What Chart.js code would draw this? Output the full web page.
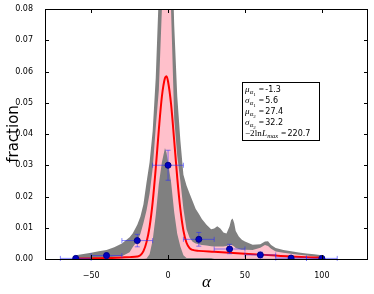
<!DOCTYPE html>
<html>
<head>
<meta charset="utf-8">
<script src="https://cdn.jsdelivr.net/npm/chart.js@4/dist/chart.umd.min.js"></script>
<style>
  html, body { margin: 0; padding: 0; background: #fff; }
  #wrap { width: 374px; height: 294px; }
</style>
</head>
<body>
<div id="wrap"><canvas id="fitChart" width="374" height="294"></canvas></div>
<script>
// x grid shared by the two bands
const bandX = [-62, -60, -55, -50, -45, -40, -35, -30, -25, -23, -20, -18, -16, -14, -12, -10, -8, -6, -4, -2, -1, 0,
  2, 4, 6, 8, 10, 12, 14, 16, 18, 20, 22, 25, 28, 30, 32, 34, 36, 38, 40, 41, 42, 43, 44, 46, 48, 50,
  55, 60, 63, 65, 67, 70, 75, 80, 85, 90, 95, 100];

// outer (gray) band, upper edge; lower edge sits on zero
const grayHi = [0.0008, 0.0012, 0.0016, 0.002, 0.0025, 0.0029, 0.0038, 0.005, 0.007, 0.0082, 0.011, 0.0135, 0.0175, 0.0245, 0.031, 0.041, 0.058, 0.085, 0.12, 0.15, 0.15, 0.15,
  0.11, 0.075, 0.052, 0.038, 0.027, 0.0235, 0.021, 0.0185, 0.016, 0.0145, 0.0128, 0.011, 0.0095, 0.0098, 0.0105, 0.0098, 0.0085, 0.0082, 0.0105, 0.0125, 0.013, 0.0115, 0.009, 0.0072, 0.0062, 0.0056,
  0.0046, 0.0047, 0.0056, 0.0057, 0.0045, 0.0035, 0.0029, 0.0025, 0.0021, 0.0018, 0.0015, 0.0012];

// inner (pink) band
const pinkHi = [0.0002, 0.0002, 0.0003, 0.0003, 0.0004, 0.0005, 0.0007, 0.0009, 0.0022, 0.0038, 0.0058, 0.008, 0.0115, 0.0155, 0.021, 0.029, 0.042, 0.054, 0.08, 0.11, 0.12, 0.11,
  0.079, 0.045, 0.033, 0.025, 0.016, 0.0095, 0.0068, 0.0055, 0.005, 0.0047, 0.0045, 0.0043, 0.0041, 0.004, 0.004, 0.004, 0.004, 0.0042, 0.0045, 0.0045, 0.0043, 0.004, 0.0035, 0.0032, 0.003, 0.003,
  0.0029, 0.0036, 0.0045, 0.0042, 0.0033, 0.0024, 0.002, 0.0017, 0.0014, 0.0011, 0.0008, 0.0005];
const pinkLo = [0.0001, 0.0001, 0.0001, 0.0001, 0.0001, 0.0001, 0.0001, 0.0001, 0.0001, 0.0001, 0.0001, 0.0001, 0.0001, 0.0002, 0.0015, 0.006, 0.014, 0.024, 0.031, 0.0355, 0.034, 0.031,
  0.0245, 0.015, 0.008, 0.004, 0.0012, 0.0003, 0.0003, 0.0003, 0.0003, 0.0003, 0.0003, 0.0003, 0.0003, 0.0001, 0.0001, 0.0001, 0.0001, 0.0001, 0.0001, 0.0001, 0.0001, 0.0001, 0.0001, 0.0001, 0.0001, 0.0001,
  0.0001, 0.0001, 0.0001, 0.0001, 0.0001, 0.0001, 0.0001, 0.0001, 0.0001, 0.0001, 0.0001, 0.0001];

// best fit curve (red)
const fitX = [-62, -50, -40, -30, -25, -20, -18, -16, -14, -12, -10, -8, -6, -4, -2, -1, 0, 2, 4, 6, 8, 10, 12, 14, 16, 20, 30, 40, 50, 60, 70, 80, 90, 100];
const fitY = [0.0001, 0.0002, 0.0003, 0.0005, 0.0006, 0.0008, 0.0012, 0.0025, 0.0054, 0.0103, 0.0182, 0.029, 0.0413, 0.052, 0.0579, 0.0585, 0.0568, 0.0494, 0.0379, 0.0259, 0.016, 0.0091, 0.0052, 0.0035, 0.0029,
  0.0026, 0.0023, 0.002, 0.0017, 0.0014, 0.0011, 0.0008, 0.0006, 0.0004];

// binned data with errors
const binX = [-60, -40, -20, 0, 20, 40, 60, 80, 100];
const binY = [0.0002, 0.0011, 0.0059, 0.030, 0.0063, 0.0032, 0.0013, 0.0003, 0.0002];
const binYErr = [0.0002, 0.0008, 0.002, 0.0048, 0.0022, 0.0015, 0.0009, 0.0003, 0.0002];
const binXErr = [10, 10, 10, 10, 10, 10, 10, 10, 10];

const xTicks = [-50, 0, 50, 100];

const fitLines = [
  [['μ', 'm'], ['α', 's'], ['1', 'ss'], [' =', 'm'], ['-1.3', 'n']],
  [['σ', 'm'], ['α', 's'], ['1', 'ss'], [' =', 'm'], ['5.6', 'n']],
  [['μ', 'm'], ['α', 's'], ['2', 'ss'], [' =', 'm'], ['27.4', 'n']],
  [['σ', 'm'], ['α', 's'], ['2', 'ss'], [' =', 'm'], ['32.2', 'n']],
  [['−2', 'r'], ['ln', 'r'], ['L', 'm'], ['max', 's'], [' =', 'm'], ['220.7', 'n']]
];

const pts = (xs, ys) => xs.map((x, i) => ({ x: x, y: ys[i] }));

const errorBars = {
  id: 'errorBars',
  beforeDatasetDraw(chart, args) {
    if (args.index !== 4) return;
    const ctx = chart.ctx;
    const xs = chart.scales.x, ys = chart.scales.y;
    ctx.save();
    ctx.strokeStyle = 'rgba(40,40,255,0.55)';
    ctx.lineWidth = 1;
    const cap = 2.5;
    binX.forEach((x, i) => {
      const px = xs.getPixelForValue(x), py = ys.getPixelForValue(binY[i]);
      const x0 = xs.getPixelForValue(x - binXErr[i]), x1 = xs.getPixelForValue(x + binXErr[i]);
      const y0 = ys.getPixelForValue(binY[i] - binYErr[i]), y1 = ys.getPixelForValue(binY[i] + binYErr[i]);
      ctx.beginPath();
      ctx.moveTo(x0, py); ctx.lineTo(x1, py);
      ctx.moveTo(x0, py - cap); ctx.lineTo(x0, py + cap);
      ctx.moveTo(x1, py - cap); ctx.lineTo(x1, py + cap);
      ctx.moveTo(px, y0); ctx.lineTo(px, y1);
      ctx.moveTo(px - cap, y0); ctx.lineTo(px + cap, y0);
      ctx.moveTo(px - cap, y1); ctx.lineTo(px + cap, y1);
      ctx.stroke();
    });
    ctx.restore();
  }
};

const frameAndText = {
  id: 'frameAndText',
  afterDatasetsDraw(chart) {
    const ctx = chart.ctx;
    const a = chart.chartArea;
    const xs = chart.scales.x, ys = chart.scales.y;
    ctx.save();
    // frame
    ctx.strokeStyle = '#000';
    ctx.lineWidth = 1;
    ctx.strokeRect(Math.round(a.left) + 0.5, Math.round(a.top) + 0.5, Math.round(a.right - a.left) - 1, Math.round(a.bottom - a.top));
    // inward ticks on all sides
    ctx.beginPath();
    xTicks.forEach(v => {
      const px = Math.round(xs.getPixelForValue(v)) + 0.5;
      ctx.moveTo(px, a.bottom); ctx.lineTo(px, a.bottom - 4);
      ctx.moveTo(px, a.top); ctx.lineTo(px, a.top + 4);
    });
    ys.ticks.forEach(t => {
      const py = Math.round(ys.getPixelForValue(t.value)) + 0.5;
      ctx.moveTo(a.left, py); ctx.lineTo(a.left + 4, py);
      ctx.moveTo(a.right, py); ctx.lineTo(a.right - 4, py);
    });
    ctx.stroke();

    // axis titles
    ctx.fillStyle = '#000';
    ctx.font = '15px "DejaVu Sans"';
    ctx.textAlign = 'center';
    ctx.textBaseline = 'alphabetic';
    ctx.save();
    ctx.translate(18, (a.top + a.bottom) / 2);
    ctx.rotate(-Math.PI / 2);
    ctx.fillText('fraction', 0, 0);
    ctx.restore();
    ctx.font = 'italic 17px "Liberation Serif"';
    ctx.fillText('α', (a.left + a.right) / 2, 287);

    // fit summary box
    const bx = a.left + 197, by = a.top + 73, bw = 77, bh = 58;
    ctx.fillStyle = '#fff';
    ctx.fillRect(bx, by, bw, bh);
    ctx.strokeStyle = '#000';
    ctx.strokeRect(bx + 0.5, by + 0.5, bw, bh);
    ctx.fillStyle = '#000';
    ctx.textAlign = 'left';
    const fonts = {
      m: ['italic 9px "Liberation Serif"', 0],
      r: ['9px "Liberation Serif"', 0],
      s: ['italic 6.5px "Liberation Serif"', 2],
      ss: ['5px "Liberation Serif"', 3.5],
      n: ['8px "DejaVu Sans"', 0]
    };
    fitLines.forEach((line, li) => {
      let cx = bx + 3;
      const base = by + 10 + li * 11;
      line.forEach(([txt, kind]) => {
        const f = fonts[kind];
        ctx.font = f[0];
        ctx.fillText(txt, cx, base + f[1]);
        cx += ctx.measureText(txt).width + 0.2;
        if (txt === ' =') cx += 0.8;
      });
    });
    ctx.restore();
  }
};

new Chart(document.getElementById('fitChart'), {
  type: 'line',
  data: {
    datasets: [
      {
        label: 'outer',
        data: pts(bandX, grayHi),
        borderWidth: 0,
        borderColor: 'rgba(0,0,0,0)',
        backgroundColor: '#808080',
        fill: 'origin',
        pointRadius: 0,
        tension: 0,
        order: 5
      },
      {
        label: 'inner lo',
        data: pts(bandX, pinkLo),
        borderWidth: 0,
        borderColor: 'rgba(0,0,0,0)',
        pointRadius: 0,
        fill: false,
        tension: 0,
        order: 4
      },
      {
        label: 'inner hi',
        data: pts(bandX, pinkHi),
        borderWidth: 0,
        borderColor: 'rgba(0,0,0,0)',
        backgroundColor: '#ffc0cb',
        fill: '-1',
        pointRadius: 0,
        tension: 0,
        order: 3
      },
      {
        label: 'fit',
        data: pts(fitX, fitY),
        borderColor: '#ff0000',
        borderWidth: 2,
        pointRadius: 0,
        fill: false,
        cubicInterpolationMode: 'monotone',
        order: 2
      },
      {
        label: 'bins',
        data: pts(binX, binY),
        showLine: false,
        pointRadius: 3,
        pointBackgroundColor: '#0000c0',
        pointBorderColor: '#00008a',
        pointBorderWidth: 1,
        order: 1
      }
    ]
  },
  options: {
    responsive: false,
    animation: false,
    layout: { padding: { top: 9, right: 6, left: 0, bottom: 0 } },
    plugins: { legend: { display: false }, tooltip: { enabled: false } },
    scales: {
      x: {
        type: 'linear',
        min: -80,
        max: 130,
        afterBuildTicks: s => { s.ticks = xTicks.map(v => ({ value: v })); },
        afterFit: s => { s.height = 35; },
        grid: { display: false },
        border: { display: false },
        ticks: {
          padding: 4,
          color: '#000',
          font: { family: 'DejaVu Sans', size: 8 },
          callback: v => (v < 0 ? '−' + Math.abs(v) : '' + v)
        }
      },
      y: {
        min: 0,
        max: 0.08,
        afterFit: s => { s.width = 45; },
        grid: { display: false },
        border: { display: false },
        ticks: {
          stepSize: 0.01,
          padding: 4,
          color: '#000',
          font: { family: 'DejaVu Sans', size: 8 },
          callback: v => v.toFixed(2)
        }
      }
    }
  },
  plugins: [errorBars, frameAndText]
});
</script>
</body>
</html>
